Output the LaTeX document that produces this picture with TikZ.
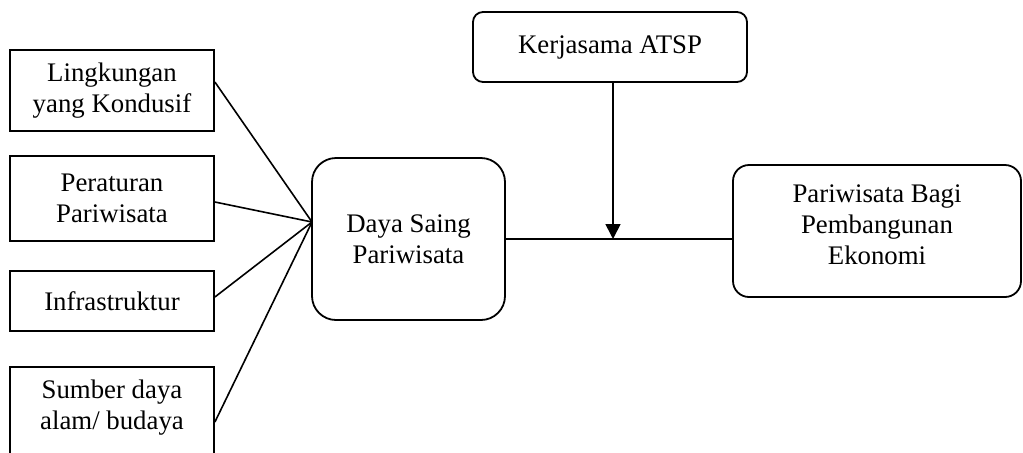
\documentclass[tikz,border=0pt]{standalone}
\usepackage{fontspec}
\setmainfont{Liberation Serif}
\usetikzlibrary{arrows.meta}
\begin{document}
\begin{tikzpicture}[x=0.5pt,y=-0.5pt,
  every node/.style={font=\fontsize{13.4}{15.5}\selectfont, align=center,
    inner sep=0pt, line width=0.9pt},
  factor/.style={draw, rectangle, minimum width=102pt},
  roundbox/.style={draw, rectangle, rounded corners=#1},
  link/.style={line width=0.8pt}]
\useasboundingbox (0,0) rectangle (1023,452);

% factor boxes on the left
\node[factor, minimum height=40.5pt] (ling)  at (112,90.5)  {Lingkungan\\yang Kondusif};
\node[factor, minimum height=42.5pt] (atur)  at (112,198.5) {Peraturan\\Pariwisata};
\node[factor, minimum height=30pt]   (infra) at (112,301)   {Infrastruktur};
\node[factor, minimum height=48pt]   (alam)  at (112,415)   {};
\node at (112,408) {Sumber daya\\alam/ budaya};

% central, moderating and outcome boxes
\node[roundbox=12pt, minimum width=96.5pt, minimum height=81pt] (daya) at (408.5,239) {Daya Saing\\Pariwisata};
\node[roundbox=5pt, minimum width=137pt, minimum height=35pt] (kerja) at (610,47) {Kerjasama ATSP};
\node[roundbox=8pt, minimum width=144pt, minimum height=66pt] (econ) at (877,231) {};
\node at (877,225) {Pariwisata Bagi\\Pembangunan\\Ekonomi};

% factors converge on the central box
\coordinate (hub) at (312,222);
\draw[link] ([yshift=4.25pt]ling.east) -- (hub);
\draw[link] ([yshift=-1.75pt]atur.east) -- (hub);
\draw[link] ([yshift=2pt]infra.east) -- (hub);
\draw[link] ([yshift=-3.5pt]alam.east) -- (hub);

% main path and moderating arrow
\coordinate (mid) at (daya.east);
\draw[link] (mid) -- (mid -| econ.west);
\draw[link, -{Triangle[width=7.5pt,length=7.5pt]}] ([xshift=1.5pt]kerja.south) -- ([xshift=1.5pt]kerja.south |- mid);
\end{tikzpicture}
\end{document}
